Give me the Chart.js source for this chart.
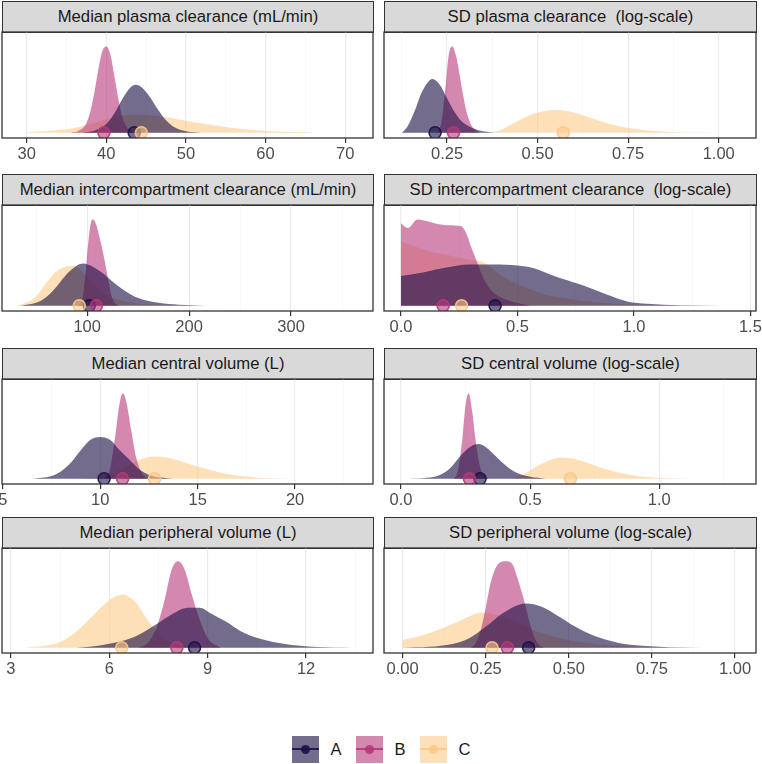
<!DOCTYPE html>
<html>
<head>
<meta charset="utf-8">
<script src="https://cdn.jsdelivr.net/npm/chart.js@4/dist/chart.umd.min.js"></script>
<style>
body { margin: 0; background: #fff; font-family: "Liberation Sans", Arial, sans-serif; }
#wrap { position: relative; width: 762px; height: 764px; overflow: hidden; }
.strip { position: absolute; box-sizing: border-box; height: 31px; background: #d9d9d9; border: 1px solid #333;
  color: #1a1a1a; font-size: 16.7px; line-height: 30px; text-align: center; white-space: pre; }
canvas { position: absolute; }
#legend { position: absolute; left: 0; width: 762px; top: 736px; height: 27px; display: flex; justify-content: center; align-items: center; }
.key { position: relative; width: 27px; height: 27px; margin-right: 12px; }
.key .ln { position: absolute; left: 0; right: 0; top: 12px; height: 2px; }
.key .dot { position: absolute; left: 9px; top: 9px; width: 9px; height: 9px; border-radius: 50%; }
.lab { font-size: 16.5px; color: #1a1a1a; margin-right: 14px; }
.lab:last-child { margin-right: 0; }
</style>
</head>
<body>
<div id="wrap"></div>
<script>
const groups = ['A', 'B', 'C']
const titles = [
  'Median plasma clearance (mL/min)', 'SD plasma clearance  (log-scale)',
  'Median intercompartment clearance (mL/min)', 'SD intercompartment clearance  (log-scale)',
  'Median central volume (L)', 'SD central volume (log-scale)',
  'Median peripheral volume (L)', 'SD peripheral volume (log-scale)'
]
const tickSets = [
  [30, 40, 50, 60, 70], [0.25, 0.5, 0.75, 1],
  [100, 200, 300], [0, 0.5, 1, 1.5],
  [5, 10, 15, 20], [0, 0.5, 1],
  [3, 6, 9, 12], [0, 0.25, 0.5, 0.75, 1]
]
const decimals = [0, 2, 0, 1, 0, 1, 0, 2]
const xRanges = [[26.9, 73.5], [0.076, 1.103], [16.4, 380.4], [-0.073, 1.524],
  [4.96, 24.0], [-0.066, 1.375], [2.73, 14.04], [-0.056, 1.063]]

// densities as [x, relative density]
const clA = [[37,0],[38.5,0.02],[40,0.09],[41,0.2],[42,0.35],[43,0.47],[43.7,0.5],[44.5,0.47],[45.5,0.37],[46.5,0.24],[47.5,0.13],[48.5,0.06],[50,0.015],[52,0]]
const clB = [[35.5,0],[36.5,0.02],[37.5,0.1],[38,0.22],[38.5,0.42],[39,0.66],[39.5,0.85],[40,0.9],[40.5,0.82],[41,0.6],[41.5,0.36],[42,0.17],[42.5,0.07],[43.5,0.01],[45,0]]
const clC = [[30,0.005],[33,0.02],[36,0.05],[38,0.09],[40,0.14],[42,0.18],[44,0.19],[46,0.18],[48,0.155],[50,0.125],[52,0.095],[55,0.06],[58,0.03],[62,0.01],[66,0.002],[66.1,0]]
const clMed = [43.5, 39.7, 44.4]

const sdClA = [[0.125,0],[0.14,0.06],[0.16,0.22],[0.18,0.42],[0.2,0.54],[0.21,0.56],[0.23,0.5],[0.25,0.36],[0.27,0.22],[0.29,0.12],[0.32,0.05],[0.35,0.015],[0.38,0]]
const sdClB = [[0.225,0],[0.235,0.12],[0.245,0.45],[0.255,0.82],[0.265,0.9],[0.275,0.8],[0.285,0.6],[0.295,0.38],[0.305,0.2],[0.32,0.06],[0.34,0]]
const sdClC = [[0.37,0],[0.4,0.03],[0.43,0.09],[0.46,0.15],[0.5,0.21],[0.55,0.24],[0.6,0.21],[0.65,0.15],[0.7,0.09],[0.75,0.05],[0.8,0.025],[0.87,0.008],[0.95,0.002],[0.99,0]]
const sdClMed = [0.217, 0.268, 0.571]

const qA = [[35,0],[50,0.03],[60,0.09],[70,0.2],[80,0.33],[90,0.42],[96,0.44],[105,0.41],[115,0.34],[125,0.25],[135,0.17],[150,0.08],[170,0.03],[190,0.01],[215,0]]
const qB = [[90,0],[95,0.06],[98,0.3],[101,0.65],[104,0.88],[106,0.9],[109,0.84],[112,0.72],[115,0.58],[118,0.42],[121,0.25],[124,0.1],[127,0.03],[131,0]]
const qC = [[30,0],[40,0.03],[50,0.1],[60,0.24],[70,0.36],[80,0.41],[85,0.42],[95,0.36],[105,0.24],[115,0.14],[125,0.08],[140,0.04],[160,0.015],[190,0.005],[240,0]]
const qMed = [102, 109, 92.2]

const sdQA = [[0,0.31],[0.1,0.35],[0.2,0.4],[0.29,0.43],[0.4,0.43],[0.5,0.42],[0.571,0.39],[0.657,0.31],[0.771,0.22],[0.886,0.115],[0.971,0.045],[1.057,0.02],[1.2,0.005],[1.38,0]]
const sdQB = [[0,0.86],[0.029,0.81],[0.071,0.9],[0.114,0.88],[0.143,0.86],[0.2,0.84],[0.257,0.83],[0.279,0.76],[0.3,0.62],[0.329,0.44],[0.357,0.27],[0.4,0.13],[0.457,0.06],[0.514,0.02],[0.557,0]]
const sdQC = [[0,0.67],[0.057,0.62],[0.129,0.56],[0.2,0.53],[0.271,0.49],[0.343,0.46],[0.371,0.43],[0.414,0.34],[0.486,0.24],[0.557,0.17],[0.629,0.11],[0.7,0.08],[0.771,0.055],[0.914,0.02],[1.057,0.007],[1.2,0]]
const sdQMed = [0.404, 0.181, 0.26]

const vcA = [[6.5,0],[7.5,0.03],[8,0.08],[8.5,0.17],[9,0.3],[9.5,0.41],[10,0.44],[10.5,0.41],[11,0.3],[11.5,0.2],[12,0.1],[12.5,0.04],[13,0.015],[13.7,0]]
const vcB = [[10.2,0],[10.5,0.1],[10.75,0.42],[11,0.8],[11.17,0.9],[11.35,0.8],[11.6,0.5],[11.85,0.22],[12.1,0.07],[12.4,0]]
const vcC = [[9,0],[10,0.02],[11,0.09],[11.8,0.18],[12.7,0.235],[13.5,0.22],[14.5,0.16],[15.5,0.1],[16.5,0.05],[17.5,0.025],[18.5,0.008],[20,0]]
const vcMed = [10.2, 11.15, 12.79]

const sdVcA = [[0.03,0],[0.1,0.01],[0.15,0.04],[0.19,0.11],[0.23,0.24],[0.27,0.34],[0.3,0.365],[0.33,0.33],[0.37,0.23],[0.41,0.13],[0.45,0.06],[0.5,0.02],[0.56,0]]
const sdVcB = [[0.205,0],[0.22,0.08],[0.235,0.36],[0.25,0.78],[0.262,0.9],[0.275,0.72],[0.29,0.38],[0.305,0.14],[0.32,0.04],[0.34,0]]
const sdVcC = [[0.42,0],[0.47,0.04],[0.52,0.12],[0.57,0.19],[0.62,0.225],[0.67,0.21],[0.72,0.17],[0.78,0.11],[0.85,0.06],[0.93,0.025],[1.02,0.008],[1.16,0]]
const sdVcMed = [0.306, 0.265, 0.656]

const vpA = [[5,0],[5.8,0.03],[6.74,0.11],[7.45,0.25],[7.9,0.35],[8.4,0.42],[8.75,0.42],[9.1,0.36],[9.58,0.27],[9.98,0.18],[10.6,0.094],[11.31,0.042],[12.33,0.007],[13.4,0]]
const vpB = [[6.9,0],[7.2,0.06],[7.45,0.22],[7.7,0.52],[7.9,0.82],[8.1,0.91],[8.3,0.82],[8.5,0.58],[8.75,0.3],[9,0.1],[9.4,0]]
const vpC = [[3.4,0],[4,0.02],[4.5,0.06],[5,0.17],[5.5,0.34],[6,0.5],[6.4,0.56],[6.8,0.48],[7.2,0.28],[7.6,0.12],[8,0.04],[8.5,0]]
const vpMed = [8.6, 8.06, 6.38]

const sdVpA = [[0,0],[0.08,0.01],[0.15,0.04],[0.2,0.1],[0.25,0.22],[0.3,0.36],[0.37,0.465],[0.42,0.43],[0.47,0.33],[0.52,0.22],[0.58,0.12],[0.65,0.05],[0.72,0.02],[0.8,0.006],[0.9,0]]
const sdVpB = [[0.205,0],[0.22,0.05],[0.236,0.2],[0.25,0.42],[0.266,0.7],[0.286,0.875],[0.311,0.91],[0.331,0.875],[0.346,0.73],[0.366,0.49],[0.381,0.28],[0.396,0.11],[0.41,0.03],[0.425,0]]
const sdVpC = [[0,0.08],[0.05,0.12],[0.1,0.18],[0.15,0.25],[0.2,0.33],[0.24,0.37],[0.28,0.35],[0.34,0.28],[0.41,0.165],[0.5,0.08],[0.6,0.035],[0.7,0.012],[0.85,0]]
const sdVpMed = [0.379, 0.315, 0.269]

const densities = [
  [clA, clB, clC], [sdClA, sdClB, sdClC], [qA, qB, qC], [sdQA, sdQB, sdQC],
  [vcA, vcB, vcC], [sdVcA, sdVcB, sdVcC], [vpA, vpB, vpC], [sdVpA, sdVpB, sdVpC]
]
const medians = [clMed, sdClMed, qMed, sdQMed, vcMed, sdVcMed, vpMed, sdVpMed]

const fills = ['rgba(29,17,71,0.62)', 'rgba(183,55,121,0.6)', 'rgba(251,203,135,0.6)']
const dotFills = ['rgba(29,17,71,0.6)', 'rgba(183,55,121,0.6)', 'rgba(251,200,135,0.6)']
const dotLines = ['rgba(29,17,71,0.9)', 'rgba(183,55,121,0.9)', 'rgba(251,200,135,0.9)']

// layout of the facet grid (plot boxes in page pixels)
const stripTop = [1, 174, 348, 517]
const plotTop = [32, 205, 379, 548]
const plotH = [106, 106, 105, 105]
const colLeft = [2, 384]
const colW = [371, 372]
const PAD = 12   // larger than the point overflow chart.js reserves
const AXIS_H = 30
const FONT = '"Liberation Sans", Arial, sans-serif'

const panelBorder = {
  id: 'panelBorder',
  afterDraw(chart) {
    const a = chart.chartArea, c = chart.ctx
    c.save()
    c.strokeStyle = '#333'
    c.lineWidth = 1.3
    c.strokeRect(a.left, a.top, a.right - a.left, a.bottom - a.top)
    c.restore()
  }
}

const wrap = document.getElementById('wrap')

function makePanel(i) {
  const col = i % 2, row = Math.floor(i / 2)
  const majors = tickSets[i]
  const step = majors[1] - majors[0]
  const [xmin, xmax] = xRanges[i]
  // edge ticks carry no label so the plot box is not squeezed by label widths
  const all = [xmin]
  for (let v = majors[0] - step / 2; v <= xmax; v += step / 2) {
    if (v > xmin) all.push(Math.round(v * 1e6) / 1e6)
  }
  all.push(xmax)
  const isMajor = v => majors.some(m => Math.abs(m - v) < 1e-6)
  const isEdge = v => v === xmin || v === xmax

  const strip = document.createElement('div')
  strip.className = 'strip'
  strip.style.left = colLeft[col] + 'px'
  strip.style.width = (colW[col] + 1) + 'px'
  strip.style.top = stripTop[row] + 'px'
  strip.style.height = (plotTop[row] - stripTop[row] + 1) + 'px'
  strip.textContent = titles[i]
  wrap.appendChild(strip)

  const cv = document.createElement('canvas')
  cv.width = colW[col] + 2 * PAD
  cv.height = PAD + plotH[row] + AXIS_H
  cv.style.left = (colLeft[col] - PAD) + 'px'
  cv.style.top = (plotTop[row] - PAD) + 'px'
  wrap.appendChild(cv)

  const slabs = groups.map((g, k) => ({
    type: 'line',
    label: g,
    data: densities[i][k].map(p => ({ x: p[0], y: p[1] })),
    backgroundColor: fills[k],
    borderWidth: 0,
    pointRadius: 0,
    fill: 'origin',
    cubicInterpolationMode: 'monotone',
    order: 4 + k
  }))
  const dots = groups.map((g, k) => ({
    type: 'scatter',
    label: g + ' median',
    data: [{ x: medians[i][k], y: 0 }],
    backgroundColor: dotFills[k],
    borderColor: dotLines[k],
    borderWidth: 1.6,
    pointRadius: 6,
    order: 3 - k
  }))

  new Chart(cv, {
    type: 'line',
    data: { datasets: slabs.concat(dots) },
    options: {
      responsive: false,
      animation: false,
      devicePixelRatio: 1,
      layout: { padding: { left: PAD, right: PAD, top: PAD, bottom: 0 } },
      plugins: { legend: { display: false }, tooltip: { enabled: false } },
      scales: {
        x: {
          type: 'linear', min: xmin, max: xmax,
          afterBuildTicks: s => { s.ticks = all.map(v => ({ value: v })) },
          afterFit: s => { s.height = AXIS_H },
          ticks: {
            autoSkip: false, maxRotation: 0, padding: 2, color: '#4d4d4d',
            font: { size: 16.5, family: FONT },
            callback: v => isMajor(v) && !isEdge(v) ? v.toFixed(decimals[i]) : ''
          },
          grid: {
            color: c => isEdge(c.tick.value) ? 'rgba(0,0,0,0)' : isMajor(c.tick.value) ? '#ebebeb' : '#f5f5f5',
            lineWidth: c => isMajor(c.tick.value) ? 1.2 : 0.6,
            tickColor: c => isMajor(c.tick.value) && !isEdge(c.tick.value) ? '#333' : 'rgba(0,0,0,0)',
            tickLength: 5
          },
          border: { display: false }
        },
        y: { display: false, min: -0.055, max: 1.05 }
      }
    },
    plugins: [panelBorder]
  })
}

for (let i = 0; i < 8; i++) makePanel(i)

// legend
const legend = document.createElement('div')
legend.id = 'legend'
groups.forEach((g, k) => {
  const key = document.createElement('div')
  key.className = 'key'
  key.style.background = fills[k]
  const ln = document.createElement('div')
  ln.className = 'ln'
  ln.style.background = dotLines[k]
  const dot = document.createElement('div')
  dot.className = 'dot'
  dot.style.background = dotLines[k]
  key.appendChild(ln)
  key.appendChild(dot)
  const lab = document.createElement('span')
  lab.className = 'lab'
  lab.textContent = g
  legend.appendChild(key)
  legend.appendChild(lab)
})
wrap.appendChild(legend)
</script>
</body>
</html>
